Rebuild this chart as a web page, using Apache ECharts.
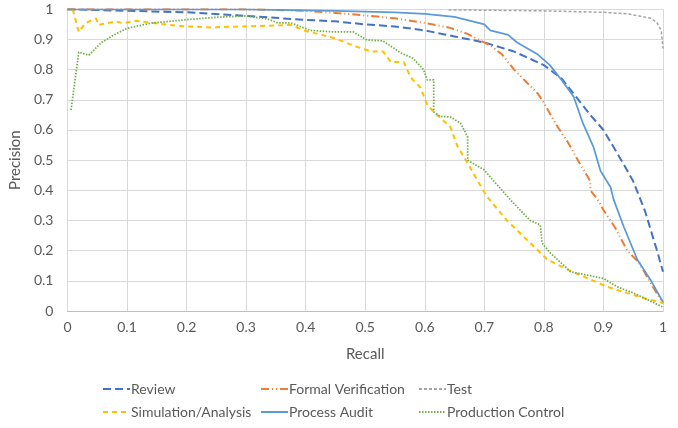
<!DOCTYPE html>
<html>
<head>
<meta charset="utf-8">
<script src="https://cdn.jsdelivr.net/npm/echarts@6/dist/echarts.min.js"></script>
<style>
html,body{margin:0;padding:0;background:#fff;}
#c{width:678px;height:428px;}
</style>
</head>
<body>
<div id="c"></div>
<script>
var seriesNames = ["Review", "Formal Verification", "Test", "Simulation/Analysis", "Process Audit", "Production Control"];

var review = [[0,1],[0.1,0.995],[0.2,0.99],[0.3,0.978],[0.4,0.965],[0.45,0.96],[0.5,0.95],[0.55,0.943],[0.6,0.93],[0.65,0.91],[0.7,0.89],[0.75,0.86],[0.8,0.815],[0.83,0.77],[0.85,0.72],[0.88,0.645],[0.9,0.6],[0.93,0.5],[0.95,0.43],[0.97,0.33],[0.99,0.2],[1.0,0.13]];

var formalVerification = [[0,1],[0.3,1],[0.4,0.995],[0.47,0.985],[0.55,0.97],[0.6,0.955],[0.64,0.94],[0.67,0.92],[0.69,0.9],[0.71,0.88],[0.73,0.85],[0.75,0.8],[0.77,0.76],[0.79,0.72],[0.8,0.69],[0.82,0.62],[0.84,0.56],[0.86,0.49],[0.878,0.43],[0.878,0.40],[0.89,0.37],[0.9,0.335],[0.92,0.275],[0.94,0.2],[0.96,0.16],[0.98,0.09],[1.0,0.025]];

var test = [[0.64,0.998],[0.7,0.997],[0.8,0.995],[0.9,0.99],[0.94,0.985],[0.96,0.978],[0.98,0.97],[0.99,0.955],[0.997,0.93],[1.0,0.87]];

var simulationAnalysis = [[0.009,1],[0.019,0.925],[0.03,0.954],[0.048,0.97],[0.052,0.948],[0.081,0.96],[0.093,0.954],[0.115,0.962],[0.14,0.955],[0.185,0.945],[0.24,0.94],[0.325,0.945],[0.375,0.948],[0.397,0.93],[0.447,0.905],[0.487,0.875],[0.51,0.86],[0.53,0.86],[0.543,0.825],[0.565,0.825],[0.576,0.775],[0.593,0.74],[0.604,0.683],[0.618,0.655],[0.643,0.61],[0.655,0.545],[0.672,0.49],[0.688,0.434],[0.705,0.378],[0.738,0.30],[0.772,0.235],[0.806,0.17],[0.85,0.128],[0.907,0.08],[0.962,0.046],[1,0.026]];

var processAudit = [[0,1],[0.3,1],[0.45,0.995],[0.55,0.99],[0.6,0.985],[0.65,0.975],[0.7,0.95],[0.71,0.93],[0.74,0.915],[0.755,0.89],[0.79,0.85],[0.81,0.815],[0.83,0.765],[0.85,0.71],[0.866,0.62],[0.883,0.545],[0.895,0.465],[0.912,0.41],[0.917,0.37],[0.934,0.28],[0.957,0.17],[0.98,0.1],[1.0,0.03]];

var productionControl = [[0.006,0.666],[0.019,0.858],[0.036,0.848],[0.056,0.888],[0.078,0.915],[0.1,0.937],[0.14,0.954],[0.196,0.965],[0.252,0.974],[0.3,0.978],[0.336,0.968],[0.353,0.955],[0.375,0.955],[0.408,0.93],[0.447,0.925],[0.48,0.925],[0.503,0.898],[0.53,0.895],[0.56,0.855],[0.58,0.838],[0.598,0.8],[0.604,0.766],[0.615,0.766],[0.615,0.66],[0.626,0.645],[0.643,0.643],[0.66,0.623],[0.672,0.577],[0.672,0.5],[0.7,0.467],[0.71,0.444],[0.744,0.368],[0.777,0.3],[0.794,0.285],[0.797,0.225],[0.811,0.192],[0.845,0.13],[0.9,0.108],[0.923,0.08],[0.95,0.06],[1,0.013]];

var xTickLabels = ["0","0.1","0.2","0.3","0.4","0.5","0.6","0.7","0.8","0.9","1"];
var yTickLabels = ["0","0.1","0.2","0.3","0.4","0.5","0.6","0.7","0.8","0.9","1"];

var seriesData = [review, formalVerification, test, simulationAnalysis, processAudit, productionControl];
var colors = ["#4472C4", "#ED7D31", "#A5A5A5", "#FFC000", "#5B9BD5", "#70AD47"];
var dashes = [[8,4], [8,3,1,3,1,3], [3,2], [5,4], "solid", [1.5,1.5]];
var widths = [2, 2, 1.5, 2, 1.75, 1.75];

var FONT = "Lato";
var chart = echarts.init(document.getElementById('c'));

var series = seriesNames.map(function(n, i){
  return {
    name: n, type: 'line', data: seriesData[i],
    showSymbol: false, symbol: 'none', animation: false,
    lineStyle: { color: colors[i], width: widths[i], type: dashes[i] },
    itemStyle: { color: colors[i] }
  };
});

var legendPos = [[102,382],[260,382],[418,382],[102,405],[260,405],[418,405]];
var legends = seriesNames.map(function(n, i){
  return {
    data: [n], left: legendPos[i][0], top: legendPos[i][1],
    itemWidth: 27, itemHeight: 14, itemGap: 0, padding: 0,
    itemStyle: { opacity: 0 },
    textStyle: { fontFamily: FONT, fontSize: 14, color: '#595959', padding: [0,0,0,-4] },
    selectedMode: false
  };
});

chart.setOption({
  backgroundColor: '#fff',
  animation: false,
  grid: { left: 66.7, right: 15, top: 9.3, bottom: 117, containLabel: false },
  legend: legends,
  xAxis: {
    type: 'value', min: 0, max: 1, interval: 0.1,
    name: 'Recall', nameLocation: 'middle', nameGap: 36,
    nameTextStyle: { fontFamily: FONT, fontSize: 15, color: '#595959' },
    axisLine: { show: true, lineStyle: { color: '#BFBFBF', width: 1 } },
    axisTick: { show: false },
    axisLabel: { fontFamily: FONT, fontSize: 14, color: '#595959', margin: 9,
      formatter: function(v){ return xTickLabels[Math.round(v*10)]; } },
    splitLine: { show: true, lineStyle: { color: '#D9D9D9', width: 1 } }
  },
  yAxis: {
    type: 'value', min: 0, max: 1, interval: 0.1,
    name: 'Precision', nameLocation: 'middle', nameGap: 42, nameRotate: 90,
    nameTextStyle: { fontFamily: FONT, fontSize: 15, color: '#595959' },
    axisLine: { show: false },
    axisTick: { show: false },
    axisLabel: { fontFamily: FONT, fontSize: 14, color: '#595959', margin: 14,
      formatter: function(v){ return yTickLabels[Math.round(v*10)]; } },
    splitLine: { show: true, lineStyle: { color: '#D9D9D9', width: 1 } }
  },
  series: series
});
</script>
</body>
</html>
